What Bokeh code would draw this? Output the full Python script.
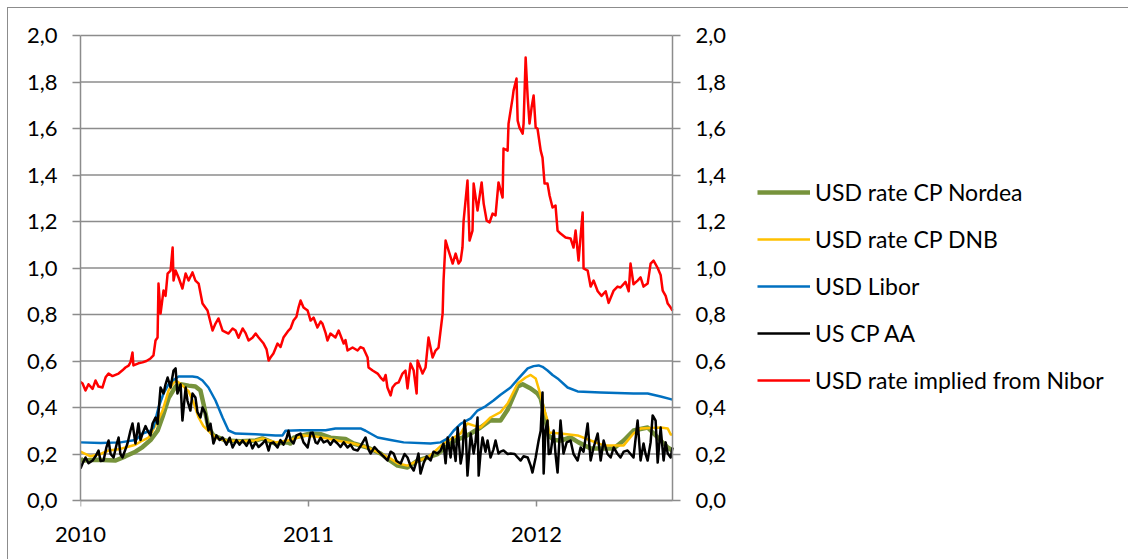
from bokeh.plotting import figure
from bokeh.models import Range1d, LinearAxis, FixedTicker, CustomJSTickFormatter, Legend, LegendItem
from bokeh.embed import file_html
from bokeh.resources import INLINE

# ---------------- data (x in decimal years) ----------------
nibor_x = [2010.000, 2010.009, 2010.022, 2010.035, 2010.053, 2010.066, 2010.079, 2010.096, 2010.110, 2010.123,
           2010.140, 2010.167, 2010.184, 2010.197, 2010.211, 2010.219, 2010.228, 2010.232, 2010.254, 2010.272,
           2010.289, 2010.307, 2010.320, 2010.329, 2010.338, 2010.342, 2010.351, 2010.364, 2010.373, 2010.382,
           2010.395, 2010.404, 2010.408, 2010.417, 2010.430, 2010.447, 2010.461, 2010.474, 2010.491, 2010.504,
           2010.518, 2010.535, 2010.557, 2010.579, 2010.592, 2010.605, 2010.623, 2010.649, 2010.667, 2010.680,
           2010.693, 2010.711, 2010.724, 2010.737, 2010.754, 2010.768, 2010.781, 2010.803, 2010.816, 2010.825,
           2010.833, 2010.846, 2010.864, 2010.877, 2010.890, 2010.912, 2010.921, 2010.934, 2010.947, 2010.956,
           2010.965, 2010.978, 2010.996, 2011.009, 2011.022, 2011.039, 2011.053, 2011.061, 2011.075, 2011.083,
           2011.096, 2011.118, 2011.132, 2011.154, 2011.162, 2011.171, 2011.193, 2011.215, 2011.228, 2011.241,
           2011.259, 2011.263, 2011.281, 2011.303, 2011.316, 2011.329, 2011.338, 2011.346, 2011.360, 2011.368,
           2011.382, 2011.395, 2011.412, 2011.425, 2011.434, 2011.447, 2011.461, 2011.474, 2011.478, 2011.500,
           2011.513, 2011.526, 2011.544, 2011.557, 2011.570, 2011.588, 2011.592, 2011.601, 2011.614, 2011.632,
           2011.645, 2011.658, 2011.667, 2011.675, 2011.680, 2011.697, 2011.706, 2011.719, 2011.724, 2011.741,
           2011.759, 2011.768, 2011.781, 2011.794, 2011.807, 2011.820, 2011.833, 2011.851, 2011.855, 2011.873,
           2011.877, 2011.895, 2011.899, 2011.912, 2011.917, 2011.925, 2011.939, 2011.943, 2011.952, 2011.961,
           2011.969, 2011.978, 2011.987, 2011.996, 2012.004, 2012.018, 2012.026, 2012.035, 2012.048, 2012.057,
           2012.070, 2012.083, 2012.092, 2012.105, 2012.127, 2012.149, 2012.162, 2012.171, 2012.184, 2012.202,
           2012.206, 2012.224, 2012.237, 2012.250, 2012.268, 2012.285, 2012.303, 2012.316, 2012.338, 2012.355,
           2012.368, 2012.390, 2012.404, 2012.412, 2012.425, 2012.443, 2012.456, 2012.469, 2012.487, 2012.500,
           2012.513, 2012.531, 2012.544, 2012.553, 2012.566, 2012.575, 2012.588, 2012.596]
nibor_y = [0.51, 0.503, 0.473, 0.50, 0.48, 0.516, 0.49, 0.486, 0.53, 0.546,
           0.535, 0.546, 0.56, 0.572, 0.58, 0.594, 0.637, 0.581, 0.59, 0.594,
           0.60, 0.611, 0.624, 0.688, 0.701, 0.933, 0.804, 0.903, 0.88, 0.976,
           0.989, 1.088, 0.946, 0.989, 0.959, 0.912, 0.976, 0.946, 0.981, 0.946,
           0.933, 0.847, 0.817, 0.731, 0.761, 0.783, 0.731, 0.718, 0.74, 0.731,
           0.70, 0.740, 0.72, 0.688, 0.70, 0.718, 0.701, 0.675, 0.65, 0.602,
           0.615, 0.632, 0.675, 0.66, 0.701, 0.731, 0.74, 0.774, 0.79, 0.830,
           0.860, 0.830, 0.817, 0.774, 0.787, 0.744, 0.77, 0.761, 0.72, 0.688,
           0.718, 0.701, 0.731, 0.675, 0.69, 0.645, 0.658, 0.645, 0.66, 0.654,
           0.615, 0.572, 0.559, 0.546, 0.529, 0.516, 0.54, 0.486, 0.452, 0.486,
           0.503, 0.508, 0.546, 0.559, 0.482, 0.589, 0.559, 0.46, 0.602, 0.546,
           0.572, 0.701, 0.615, 0.645, 0.658, 0.804, 0.946, 1.118, 1.075, 1.019,
           1.062, 1.019, 1.032, 1.088, 1.204, 1.376, 1.118, 1.161, 1.363, 1.247,
           1.368, 1.277, 1.204, 1.196, 1.234, 1.226, 1.368, 1.303, 1.514, 1.505,
           1.621, 1.733, 1.763, 1.815, 1.634, 1.604, 1.578, 1.621, 1.905, 1.733,
           1.621, 1.690, 1.742, 1.604, 1.600, 1.505, 1.475, 1.363, 1.363, 1.312,
           1.260, 1.269, 1.161, 1.148, 1.131, 1.127, 1.088, 1.161, 1.032, 1.239,
           0.998, 0.989, 0.92, 0.946, 0.90, 0.88, 0.90, 0.85, 0.903, 0.92,
           0.916, 0.94, 0.90, 1.019, 0.93, 0.946, 0.96, 0.92, 0.933, 1.019,
           1.032, 1.0, 0.97, 0.903, 0.88, 0.847, 0.83, 0.817]

libor_x = [2010.000, 2010.088, 2010.175, 2010.241, 2010.272, 2010.307, 2010.320, 2010.342, 2010.364, 2010.386,
           2010.404, 2010.430, 2010.491, 2010.513, 2010.535, 2010.561, 2010.592, 2010.623, 2010.649, 2010.680,
           2010.768, 2010.855, 2010.886, 2010.899, 2010.965, 2011.075, 2011.118, 2011.228, 2011.250, 2011.303,
           2011.360, 2011.417, 2011.535, 2011.579, 2011.610, 2011.636, 2011.667, 2011.711, 2011.741, 2011.776,
           2011.811, 2011.842, 2011.886, 2011.921, 2011.961, 2011.987, 2012.009, 2012.026, 2012.048, 2012.070,
           2012.092, 2012.136, 2012.180, 2012.281, 2012.425, 2012.487, 2012.544, 2012.596]
libor_y = [0.25, 0.247, 0.25, 0.26, 0.288, 0.30, 0.314, 0.40, 0.46, 0.50,
           0.516, 0.533, 0.533, 0.53, 0.516, 0.486, 0.43, 0.357, 0.301, 0.288,
           0.285, 0.28, 0.28, 0.30, 0.302, 0.302, 0.31, 0.31, 0.30, 0.271,
           0.26, 0.25, 0.245, 0.25, 0.267, 0.30, 0.33, 0.353, 0.387, 0.405,
           0.43, 0.455, 0.486, 0.525, 0.568, 0.578, 0.581, 0.575, 0.559, 0.54,
           0.525, 0.486, 0.469, 0.465, 0.46, 0.46, 0.447, 0.434]

dnb_x = [2010.000, 2010.009, 2010.044, 2010.088, 2010.123, 2010.167, 2010.197, 2010.241, 2010.272, 2010.298,
         2010.316, 2010.338, 2010.360, 2010.386, 2010.404, 2010.417, 2010.430, 2010.452, 2010.474, 2010.496,
         2010.518, 2010.539, 2010.561, 2010.592, 2010.636, 2010.702, 2010.768, 2010.798, 2010.855, 2010.921,
         2010.978, 2011.031, 2011.083, 2011.140, 2011.197, 2011.259, 2011.316, 2011.360, 2011.390, 2011.434,
         2011.478, 2011.522, 2011.548, 2011.592, 2011.636, 2011.667, 2011.680, 2011.697, 2011.732, 2011.754,
         2011.798, 2011.842, 2011.873, 2011.917, 2011.952, 2011.974, 2011.996, 2012.018, 2012.031, 2012.048,
         2012.053, 2012.105, 2012.180, 2012.237, 2012.294, 2012.382, 2012.425, 2012.456, 2012.544, 2012.575,
         2012.588, 2012.596]
dnb_y = [0.21, 0.206, 0.19, 0.20, 0.215, 0.22, 0.228, 0.24, 0.258, 0.27,
         0.30, 0.34, 0.387, 0.473, 0.50, 0.516, 0.508, 0.49, 0.47, 0.42,
         0.357, 0.32, 0.30, 0.271, 0.258, 0.255, 0.258, 0.267, 0.25, 0.26,
         0.28, 0.275, 0.267, 0.255, 0.245, 0.228, 0.202, 0.18, 0.16, 0.15,
         0.17, 0.185, 0.206, 0.245, 0.271, 0.288, 0.31, 0.331, 0.32, 0.314,
         0.357, 0.38, 0.417, 0.503, 0.529, 0.54, 0.525, 0.452, 0.40, 0.344,
         0.292, 0.288, 0.28, 0.258, 0.237, 0.237, 0.288, 0.31, 0.314, 0.31,
         0.284, 0.284]

nordea_x = [2010.000, 2010.009, 2010.066, 2010.154, 2010.197, 2010.241, 2010.272, 2010.307, 2010.338, 2010.360,
            2010.386, 2010.417, 2010.439, 2010.474, 2010.504, 2010.526, 2010.539, 2010.561, 2010.583, 2010.636,
            2010.702, 2010.768, 2010.798, 2010.855, 2010.908, 2010.921, 2010.934, 2011.009, 2011.053, 2011.096,
            2011.162, 2011.197, 2011.259, 2011.316, 2011.360, 2011.390, 2011.434, 2011.478, 2011.522, 2011.566,
            2011.610, 2011.645, 2011.675, 2011.711, 2011.754, 2011.798, 2011.842, 2011.873, 2011.895, 2011.917,
            2011.939, 2011.974, 2012.004, 2012.018, 2012.039, 2012.053, 2012.075, 2012.105, 2012.149, 2012.184,
            2012.237, 2012.294, 2012.338, 2012.382, 2012.425, 2012.487, 2012.531, 2012.575, 2012.596]
nordea_y = [0.18, 0.172, 0.175, 0.172, 0.19, 0.21, 0.23, 0.26, 0.30, 0.36,
            0.44, 0.49, 0.50, 0.494, 0.49, 0.473, 0.417, 0.314, 0.28, 0.258,
            0.255, 0.258, 0.267, 0.245, 0.25, 0.245, 0.27, 0.288, 0.285, 0.27,
            0.265, 0.245, 0.228, 0.202, 0.17, 0.15, 0.142, 0.172, 0.185, 0.20,
            0.235, 0.26, 0.27, 0.288, 0.314, 0.345, 0.344, 0.39, 0.44, 0.49,
            0.50, 0.482, 0.46, 0.439, 0.35, 0.28, 0.26, 0.258, 0.271, 0.25,
            0.224, 0.224, 0.224, 0.258, 0.301, 0.314, 0.271, 0.228, 0.215]

cpaa_x = [2010.000, 2010.009, 2010.022, 2010.035, 2010.053, 2010.066, 2010.079, 2010.088, 2010.101, 2010.114,
          2010.123, 2010.132, 2010.145, 2010.158, 2010.167, 2010.175, 2010.184, 2010.197, 2010.206, 2010.219,
          2010.228, 2010.241, 2010.254, 2010.263, 2010.272, 2010.285, 2010.294, 2010.307, 2010.316, 2010.329,
          2010.338, 2010.351, 2010.364, 2010.373, 2010.382, 2010.395, 2010.408, 2010.417, 2010.425, 2010.439,
          2010.447, 2010.461, 2010.469, 2010.482, 2010.491, 2010.504, 2010.513, 2010.526, 2010.535, 2010.548,
          2010.561, 2010.570, 2010.583, 2010.596, 2010.610, 2010.623, 2010.640, 2010.654, 2010.667, 2010.684,
          2010.697, 2010.711, 2010.728, 2010.741, 2010.754, 2010.768, 2010.781, 2010.798, 2010.811, 2010.825,
          2010.833, 2010.846, 2010.864, 2010.877, 2010.890, 2010.904, 2010.912, 2010.921, 2010.934, 2010.947,
          2010.965, 2010.978, 2010.996, 2011.009, 2011.018, 2011.031, 2011.039, 2011.053, 2011.066, 2011.083,
          2011.096, 2011.110, 2011.127, 2011.140, 2011.154, 2011.171, 2011.184, 2011.197, 2011.215, 2011.232,
          2011.250, 2011.263, 2011.272, 2011.289, 2011.303, 2011.316, 2011.329, 2011.346, 2011.360, 2011.373,
          2011.386, 2011.404, 2011.421, 2011.434, 2011.447, 2011.461, 2011.474, 2011.482, 2011.491, 2011.504,
          2011.518, 2011.535, 2011.548, 2011.566, 2011.579, 2011.592, 2011.601, 2011.610, 2011.623, 2011.632,
          2011.645, 2011.654, 2011.667, 2011.675, 2011.684, 2011.689, 2011.697, 2011.711, 2011.724, 2011.732,
          2011.741, 2011.746, 2011.754, 2011.763, 2011.776, 2011.785, 2011.798, 2011.811, 2011.820, 2011.833,
          2011.842, 2011.855, 2011.873, 2011.886, 2011.904, 2011.917, 2011.930, 2011.943, 2011.961, 2011.974,
          2011.982, 2011.996, 2012.009, 2012.018, 2012.026, 2012.031, 2012.039, 2012.048, 2012.053, 2012.061,
          2012.075, 2012.083, 2012.092, 2012.105, 2012.118, 2012.132, 2012.149, 2012.162, 2012.180, 2012.193,
          2012.206, 2012.224, 2012.237, 2012.250, 2012.268, 2012.281, 2012.294, 2012.311, 2012.325, 2012.338,
          2012.355, 2012.368, 2012.382, 2012.399, 2012.412, 2012.425, 2012.443, 2012.456, 2012.469, 2012.478,
          2012.487, 2012.500, 2012.509, 2012.522, 2012.531, 2012.544, 2012.557, 2012.566, 2012.575, 2012.588,
          2012.596]
cpaa_y = [0.138, 0.159, 0.185, 0.16, 0.172, 0.19, 0.215, 0.17, 0.172, 0.23,
          0.258, 0.20, 0.185, 0.24, 0.271, 0.20, 0.185, 0.22, 0.245, 0.30,
          0.331, 0.245, 0.331, 0.26, 0.288, 0.32, 0.301, 0.28, 0.331, 0.357,
          0.33, 0.486, 0.46, 0.50, 0.529, 0.486, 0.559, 0.568, 0.46, 0.50,
          0.344, 0.486, 0.43, 0.387, 0.46, 0.443, 0.38, 0.357, 0.40, 0.374,
          0.301, 0.33, 0.245, 0.28, 0.26, 0.271, 0.24, 0.27, 0.228, 0.26,
          0.24, 0.258, 0.235, 0.26, 0.224, 0.25, 0.23, 0.245, 0.26, 0.215,
          0.245, 0.25, 0.228, 0.26, 0.24, 0.27, 0.30, 0.26, 0.245, 0.28,
          0.288, 0.25, 0.228, 0.29, 0.292, 0.25, 0.245, 0.27, 0.25, 0.258,
          0.24, 0.26, 0.245, 0.23, 0.25, 0.228, 0.24, 0.22, 0.215, 0.24,
          0.271, 0.22, 0.202, 0.23, 0.215, 0.202, 0.19, 0.172, 0.21, 0.202,
          0.17, 0.159, 0.2, 0.185, 0.15, 0.129, 0.17, 0.202, 0.116, 0.159,
          0.19, 0.172, 0.21, 0.202, 0.215, 0.245, 0.16, 0.271, 0.185, 0.271,
          0.17, 0.314, 0.159, 0.202, 0.344, 0.301, 0.107, 0.288, 0.202, 0.25,
          0.357, 0.107, 0.2, 0.271, 0.21, 0.258, 0.185, 0.22, 0.258, 0.202,
          0.21, 0.215, 0.2, 0.202, 0.2, 0.185, 0.172, 0.19, 0.185, 0.15,
          0.120, 0.185, 0.258, 0.30, 0.465, 0.116, 0.30, 0.344, 0.2, 0.202,
          0.301, 0.2, 0.12, 0.344, 0.202, 0.25, 0.258, 0.2, 0.172, 0.228,
          0.21, 0.331, 0.172, 0.228, 0.288, 0.172, 0.258, 0.2, 0.185, 0.228,
          0.2, 0.185, 0.21, 0.215, 0.2, 0.185, 0.344, 0.172, 0.245, 0.2,
          0.172, 0.25, 0.366, 0.344, 0.163, 0.314, 0.172, 0.25, 0.202, 0.185,
          0.228]

series_names = ["USD rate CP Nordea", "USD rate CP DNB", "USD Libor", "US CP AA",
                "USD rate implied from Nibor"]
series_colors = ["#77933C", "#FFC000", "#0070C0", "#000000", "#FF0000"]
series_widths = [4.5, 2.5, 2.5, 2.5, 2.5]
x_ticks = [2010, 2011, 2012]
y_ticks = [0.0, 0.2, 0.4, 0.6, 0.8, 1.0, 1.2, 1.4, 1.6, 1.8, 2.0]
x_start, x_end = 2010.0, 2012.596
y_start, y_end = 0.0, 2.0

FONT = "Lato"
GRAY = "#8C8C8C"

# Layout (page px): frame x 80..1119, y 20..515; data area x 80..672, y 35..500
PX_PER_YEAR = 592 / (x_end - x_start)
PX_PER_UNIT = 465 / (y_end - y_start)
view_x_end = x_start + 1039 / PX_PER_YEAR
pad_y = 15 / PX_PER_UNIT

p = figure(width=1121, height=552, output_backend="svg", toolbar_location=None,
           x_range=Range1d(x_start, view_x_end), y_range=Range1d(y_start - pad_y, y_end + pad_y),
           min_border_left=72, min_border_right=10, min_border_top=12, min_border_bottom=45)
p.styles = {"border-left": "1px solid #8C8C8C", "border-top": "1px solid #8C8C8C",
            "margin-left": "7px", "margin-top": "7px"}
p.outline_line_color = None
p.background_fill_color = "white"
p.border_fill_color = "white"
p.xgrid.grid_line_color = None
p.ygrid.grid_line_color = None

fmt_y = CustomJSTickFormatter(code="return tick.toFixed(1).replace('.', ',');")
fmt_x = CustomJSTickFormatter(code="return tick.toFixed(0);")
fmt_blank = CustomJSTickFormatter(code="return '';")

# horizontal gridlines limited to the data area
p.segment(x0=[x_start] * len(y_ticks), x1=[x_end] * len(y_ticks), y0=y_ticks, y1=y_ticks,
          line_color=GRAY, line_width=1.5)

# bottom axis in panel: labels only
xa = p.xaxis[0]
xa.ticker = FixedTicker(ticks=x_ticks)
xa.formatter = fmt_x
xa.axis_line_color = None
xa.major_tick_line_color = None
xa.minor_tick_line_color = None
xa.major_label_standoff = 5
xa.major_label_text_font = FONT
xa.major_label_text_font_size = "22px"
xa.major_label_text_color = "#000000"

# x axis line + ticks at y = 0
xl = LinearAxis(ticker=FixedTicker(ticks=x_ticks), formatter=fmt_blank,
                fixed_location=y_start, bounds=(x_start, x_end))
p.add_layout(xl, "below")

# left axis
ya = p.yaxis[0]
ya.ticker = FixedTicker(ticks=y_ticks)
ya.formatter = fmt_y
ya.bounds = (y_start, y_end)
# right axis, drawn at the end of the data area
yr = LinearAxis(ticker=FixedTicker(ticks=y_ticks), formatter=fmt_y,
                fixed_location=x_end, bounds=(y_start, y_end))
p.add_layout(yr, "right")

for ax in [xl, ya, yr]:
    ax.axis_line_color = GRAY
    ax.axis_line_width = 1.5
    ax.major_tick_line_color = GRAY
    ax.major_tick_line_width = 1.5
    ax.major_tick_in = 0
    ax.minor_tick_line_color = None
    ax.major_label_text_font = FONT
    ax.major_label_text_font_size = "22px"
    ax.major_label_text_color = "#000000"
xl.major_tick_out = 6
ya.major_tick_out = 8
ya.major_label_standoff = 15
yr.major_tick_out = 8
yr.major_label_standoff = 15

xs = [nordea_x, dnb_x, libor_x, cpaa_x, nibor_x]
ys = [nordea_y, dnb_y, libor_y, cpaa_y, nibor_y]
items = []
for name, x, y, c, w in zip(series_names, xs, ys, series_colors, series_widths):
    r = p.line(x, y, line_color=c, line_width=w, line_join="round")
    items.append(LegendItem(label=name, renderers=[r]))

legend = Legend(items=items, location=(677, 121), orientation="vertical",
                glyph_width=53, glyph_height=28, label_height=28, label_standoff=5,
                spacing=19, padding=0, margin=0, border_line_color=None,
                background_fill_alpha=0, label_text_font=FONT,
                label_text_font_size="23px", label_text_color="#000000")
p.add_layout(legend, "center")

open("out.html", "w").write(file_html(p, INLINE))
